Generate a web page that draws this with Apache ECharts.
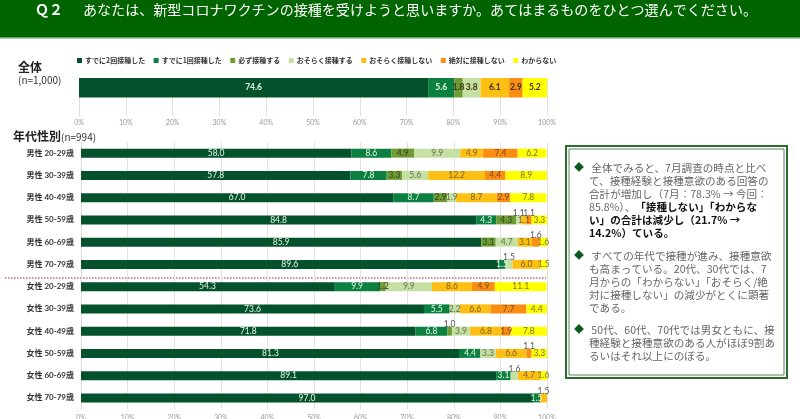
<!DOCTYPE html>
<html>
<head>
<meta charset="utf-8">
<style>html,body{margin:0;padding:0;background:#fff}#chart{width:800px;height:419px}</style>
<script src="https://cdn.jsdelivr.net/npm/echarts@6/dist/echarts.min.js"></script>
</head>
<body>
<div id="chart"></div>
<script>
var answers = ['すでに2回接種した', 'すでに1回接種した', '必ず接種する', 'おそらく接種する', 'おそらく接種しない', '絶対に接種しない', 'わからない'];
var colors = ['#04522b', '#0b8040', '#6f9b34', '#c4e0a2', '#fdbf12', '#fb8d12', '#ffff00'];
var labelColors = ['#e8f5e8', '#e8f5e8', '#33401a', '#667050', '#7a6420', '#7a4a20', '#7a7420'];

var overall = [74.6, 5.6, 1.8, 3.8, 6.1, 2.9, 5.2];

var groups = ['男性 20-29歳', '男性 30-39歳', '男性 40-49歳', '男性 50-59歳', '男性 60-69歳', '男性 70-79歳',
  '女性 20-29歳', '女性 30-39歳', '女性 40-49歳', '女性 50-59歳', '女性 60-69歳', '女性 70-79歳'];
var twice    = [58.0, 57.8, 67.0, 84.8, 85.9, 89.6, 54.3, 73.6, 71.8, 81.3, 89.1, 97.0];
var once     = [8.6, 7.8, 8.7, 4.3, 0, 1.5, 9.9, 5.5, 6.8, 4.4, 3.1, 1.5];
var sure     = [4.9, 3.3, 2.9, 4.3, 3.1, 0, 1.2, 0, 1.0, 0, 0, 0];
var probably = [9.9, 5.6, 1.9, 1.1, 4.7, 1.5, 9.9, 2.2, 3.9, 3.3, 1.6, 0];
var probNot  = [4.9, 12.2, 8.7, 1.1, 3.1, 6.0, 8.6, 6.6, 6.8, 6.6, 4.7, 1.5];
var never    = [7.4, 4.4, 2.9, 1.1, 1.6, 0, 4.9, 7.7, 1.9, 1.1, 0, 0];
var unknown  = [6.2, 8.9, 7.8, 3.3, 1.6, 1.5, 11.1, 4.4, 7.8, 3.3, 1.6, 0];
var byGroup = [twice, once, sure, probably, probNot, never, unknown];

// 細いので棒の上に出すラベル [回答, 年代]
var raised = [[3, 3], [5, 3], [5, 4], [3, 5], [2, 8], [5, 9], [3, 10], [4, 11]];

var font = 'Lato, "Noto Sans CJK JP", sans-serif';
var jp = '"Noto Sans CJK JP", sans-serif';

function isRaised(s, g) {
  return raised.some(function (r) { return r[0] == s && r[1] == g; });
}

function showValue(p) {
  return p.value ? p.value.toFixed(1) : '';
}

var series = [];
answers.forEach(function (name, s) {
  series.push({
    name: name,
    type: 'bar',
    stack: 'all',
    xAxisIndex: 0,
    yAxisIndex: 0,
    barWidth: 20,
    data: [overall[s], null],
    itemStyle: { color: colors[s] },
    label: {
      show: true,
      formatter: showValue,
      color: s < 2 ? '#e8f5e8' : '#3a3410',
      fontFamily: font,
      fontSize: 8.5,
      fontWeight: 'bold'
    }
  });
});
answers.forEach(function (name, s) {
  series.push({
    name: name,
    type: 'bar',
    stack: 'groups',
    xAxisIndex: 1,
    yAxisIndex: 1,
    barWidth: 9,
    data: byGroup[s].map(function (v, g) {
      if (!isRaised(s, g)) return v;
      return { value: v, label: { position: 'top', distance: -2, color: '#555' } };
    }),
    itemStyle: { color: colors[s] },
    label: {
      show: true,
      formatter: showValue,
      color: labelColors[s],
      fontFamily: font,
      fontSize: 8.5
    }
  });
});

function xAxis(index, margin) {
  return {
    gridIndex: index,
    type: 'value',
    min: 0,
    max: 100,
    interval: 10,
    axisLine: { show: false },
    axisTick: { show: false },
    axisLabel: { formatter: '{value}%', color: '#999', fontSize: 7, fontFamily: font, margin: margin },
    splitLine: { lineStyle: { color: '#e2e2e2' } }
  };
}

var option = {
  animation: false,
  backgroundColor: '#fff',
  textStyle: { fontFamily: jp },
  legend: {
    left: 77,
    top: 57,
    padding: 0,
    itemWidth: 5,
    itemHeight: 5,
    itemGap: 8.5,
    icon: 'rect',
    data: answers,
    textStyle: { fontFamily: jp, fontSize: 7, fontWeight: 'bold', color: '#333', padding: [0, 0, 0, -2] }
  },
  grid: [
    { left: 79, width: 468, top: 78, height: 38, outerBoundsMode: 'none' },
    { left: 81, width: 466, top: 142, height: 267, outerBoundsMode: 'none' }
  ],
  xAxis: [xAxis(0, 3), xAxis(1, 5)],
  yAxis: [
    {
      gridIndex: 0, type: 'category', inverse: true, data: ['全体', ''],
      axisLabel: { show: false }, axisTick: { show: false },
      axisLine: { lineStyle: { color: '#dcdcdc' } }
    },
    {
      gridIndex: 1, type: 'category', inverse: true, data: groups,
      axisTick: { show: false },
      axisLine: { lineStyle: { color: '#dcdcdc' } },
      axisLabel: { fontFamily: font, fontSize: 8, fontWeight: 'bold', color: '#333', margin: 7 }
    }
  ],
  series: series,
  graphic: [
    { type: 'rect', silent: true, shape: { x: 0, y: 0, width: 800, height: 37 }, style: { fill: '#006400' } },
    { type: 'rect', silent: true, shape: { x: 0, y: 37, width: 800, height: 1.5 }, style: { fill: '#5fa35f' } },
    { type: 'text', style: { x: 35, y: 9.5, text: 'Ｑ２', fill: '#fff', font: 'bold 14px ' + jp, textVerticalAlign: 'middle' } },
    { type: 'text', style: { x: 83, y: 9.5, text: 'あなたは、新型コロナワクチンの接種を受けようと思いますか。あてはまるものをひとつ選んでください。', fill: '#fff', font: '14.05px ' + jp, textVerticalAlign: 'middle' } },
    { type: 'text', style: { x: 18, y: 67, text: '全体', fill: '#222', font: 'bold 12px ' + jp, textVerticalAlign: 'middle' } },
    { type: 'text', style: { x: 18, y: 80, text: '(n=1,000)', fill: '#333', font: '10px ' + jp, textVerticalAlign: 'middle' } },
    { type: 'text', style: { x: 13, y: 136, text: '年代性別', fill: '#222', font: 'bold 12px ' + jp, textVerticalAlign: 'middle' } },
    { type: 'text', style: { x: 61, y: 137, text: '(n=994)', fill: '#333', font: '10px ' + jp, textVerticalAlign: 'middle' } },
    { type: 'line', silent: true, shape: { x1: 5, y1: 278, x2: 546, y2: 278 }, style: { stroke: '#a02040', lineWidth: 1, lineDash: [1.5, 1.5] } },
    { type: 'rect', silent: true, shape: { x: 566, y: 146, width: 221, height: 232 }, style: { fill: '#fff', stroke: '#2f6b2f', lineWidth: 2 } },
    { type: 'rect', silent: true, shape: { x: 569, y: 149, width: 215, height: 226 }, style: { fill: 'none', stroke: '#2f6b2f', lineWidth: 0.8 } },
    { type: 'text', style: { x: 574, y: 167, text: '◆', fill: '#0a5a20', font: '10px ' + jp, textVerticalAlign: 'middle' } },
    { type: 'text', style: { x: 574, y: 255, text: '◆', fill: '#0a5a20', font: '10px ' + jp, textVerticalAlign: 'middle' } },
    { type: 'text', style: { x: 574, y: 329, text: '◆', fill: '#0a5a20', font: '10px ' + jp, textVerticalAlign: 'middle' } },
    { type: 'text', style: {
      x: 589, y: 161,
      text: ' 全体でみると、7月調査の時点と比べ\nて、接種経験と接種意欲のある回答の\n合計が増加し（7月：78.3% → 今回：\n85.8%）、{b|「接種しない」「わからな}\n{b|い」の合計は減少し（21.7% →}\n{b|14.2%）ている。}',
      fill: '#666', font: '10.6px ' + jp, lineHeight: 13,
      rich: { b: { fill: '#111', font: 'bold 10.6px ' + jp, lineHeight: 13 } }
    } },
    { type: 'text', style: {
      x: 589, y: 249,
      text: ' すべての年代で接種が進み、接種意欲\nも高まっている。20代、30代では、7\n月からの「わからない」「おそらく/絶\n対に接種しない」の減少がとくに顕著\nである。',
      fill: '#666', font: '10.6px ' + jp, lineHeight: 13
    } },
    { type: 'text', style: {
      x: 589, y: 323,
      text: ' 50代、60代、70代では男女ともに、接\n種経験と接種意欲のある人がほぼ9割あ\nるいはそれ以上にのぼる。',
      fill: '#666', font: '10.6px ' + jp, lineHeight: 13
    } }
  ]
};

var chart = echarts.init(document.getElementById('chart'));
chart.setOption(option);
</script>
</body>
</html>
